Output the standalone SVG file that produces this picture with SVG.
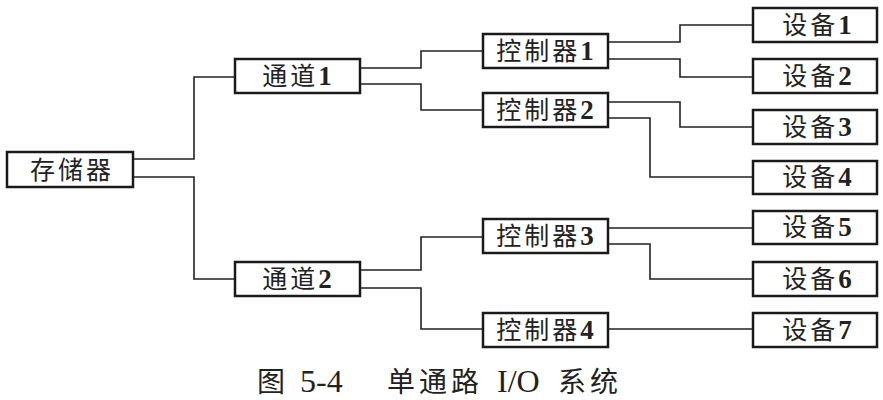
<svg xmlns="http://www.w3.org/2000/svg" width="883" height="400" viewBox="0 0 883 400">
<style>
.box{fill:#fff;stroke:#1a1a1a;stroke-width:2.5}
.lbl{font-family:"Liberation Serif","Noto Sans CJK SC",serif;font-size:25px;letter-spacing:3px;fill:#222;text-anchor:middle}
.d{font-size:27px;letter-spacing:0;font-weight:bold}
.con{fill:none;stroke:#222;stroke-width:1.6}
.cap{font-family:"Liberation Serif","Noto Sans CJK SC",serif;font-size:28px;letter-spacing:4px;fill:#222}
.cl{font-size:32px;letter-spacing:0}
</style>
<rect width="883" height="400" fill="#fff"/>
<g id="connectors">
<polyline class="con" points="133,159 194,159 194,77 235,77"/>
<polyline class="con" points="133,177 194,177 194,279 235,279"/>
<polyline class="con" points="360,68 421,68 421,51 483,51"/>
<polyline class="con" points="360,84 421,84 421,110 483,110"/>
<polyline class="con" points="360,270 421,270 421,237 483,237"/>
<polyline class="con" points="360,288 421,288 421,329 483,329"/>
<polyline class="con" points="608,42 680,42 680,25 753,25"/>
<polyline class="con" points="608,59 680,59 680,77 753,77"/>
<polyline class="con" points="608,102 680,102 680,127 753,127"/>
<polyline class="con" points="608,118 650,118 650,177 753,177"/>
<polyline class="con" points="608,228 753,228"/>
<polyline class="con" points="608,244 650,244 650,279 753,279"/>
<polyline class="con" points="608,329 753,329"/>
</g>
<g id="mem"><rect class="box" x="7" y="152" width="126" height="35"/><text class="lbl" x="72" y="179">存储器</text></g>
<g id="ch1"><rect class="box" x="235" y="59" width="125" height="34"/><text class="lbl" x="297" y="85">通道<tspan class="d">1</tspan></text></g>
<g id="ch2"><rect class="box" x="235" y="262" width="125" height="34"/><text class="lbl" x="297" y="288">通道<tspan class="d">2</tspan></text></g>
<g id="ctl1"><rect class="box" x="483" y="34" width="125" height="34"/><text class="lbl" x="545" y="60">控制器<tspan class="d">1</tspan></text></g>
<g id="ctl2"><rect class="box" x="483" y="93" width="125" height="34"/><text class="lbl" x="545" y="119">控制器<tspan class="d">2</tspan></text></g>
<g id="ctl3"><rect class="box" x="483" y="219" width="125" height="34"/><text class="lbl" x="545" y="245">控制器<tspan class="d">3</tspan></text></g>
<g id="ctl4"><rect class="box" x="483" y="313" width="125" height="34"/><text class="lbl" x="545" y="339">控制器<tspan class="d">4</tspan></text></g>
<g id="dev1"><rect class="box" x="753" y="8" width="124" height="34"/><text class="lbl" x="817" y="34">设备<tspan class="d">1</tspan></text></g>
<g id="dev2"><rect class="box" x="753" y="59" width="124" height="34"/><text class="lbl" x="817" y="85">设备<tspan class="d">2</tspan></text></g>
<g id="dev3"><rect class="box" x="753" y="110" width="124" height="34"/><text class="lbl" x="817" y="136">设备<tspan class="d">3</tspan></text></g>
<g id="dev4"><rect class="box" x="753" y="161" width="124" height="33"/><text class="lbl" x="817" y="186">设备<tspan class="d">4</tspan></text></g>
<g id="dev5"><rect class="box" x="753" y="211" width="124" height="33"/><text class="lbl" x="817" y="236">设备<tspan class="d">5</tspan></text></g>
<g id="dev6"><rect class="box" x="753" y="262" width="124" height="34"/><text class="lbl" x="817" y="288">设备<tspan class="d">6</tspan></text></g>
<g id="dev7"><rect class="box" x="753" y="313" width="124" height="34"/><text class="lbl" x="817" y="339">设备<tspan class="d">7</tspan></text></g>
<text class="cap" y="392"><tspan x="257">图</tspan><tspan class="cl" x="300">5-4</tspan><tspan x="387">单通路</tspan><tspan class="cl" x="497">I/O</tspan><tspan x="558">系统</tspan></text>
</svg>
